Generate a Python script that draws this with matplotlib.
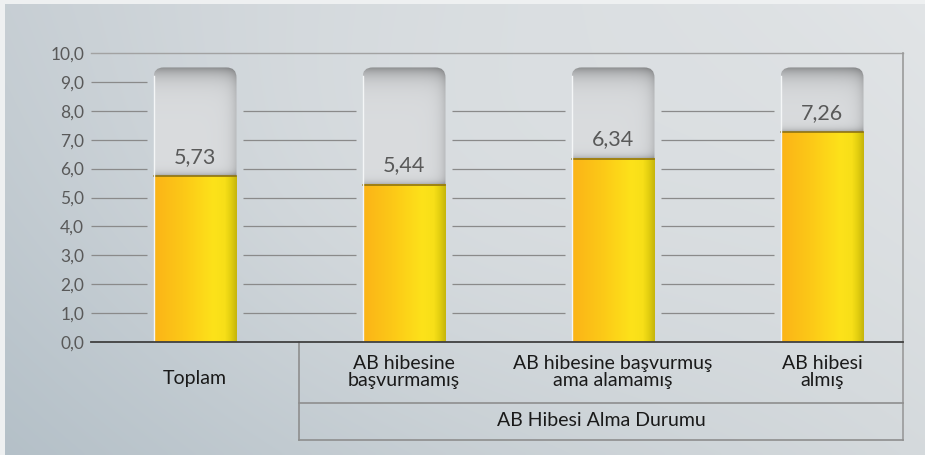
import numpy as np
import matplotlib
matplotlib.use('Agg')
from matplotlib import pyplot as plt
from matplotlib.patches import FancyBboxPatch

plt.rcParams['font.family'] = ['Lato', 'DejaVu Sans']

categories = ['Toplam', 'AB hibesine\nbaşvurmamış', 'AB hibesine başvurmuş\nama alamamış', 'AB hibesi\nalmış']
values = [5.73, 5.44, 6.34, 7.26]
value_labels = ['5,73', '5,44', '6,34', '7,26']
group_label = 'AB Hibesi Alma Durumu'
yticks = list(range(0, 11))
ytick_labels = ['0,0', '1,0', '2,0', '3,0', '4,0', '5,0', '6,0', '7,0', '8,0', '9,0', '10,0']
track_top = 9.5


def hex2rgb(h):
    h = h.lstrip('#')
    return np.array([int(h[i:i + 2], 16) / 255 for i in (0, 2, 4)])


def background(fig):
    bg = fig.add_axes([0, 0, 1, 1])
    bg.set_axis_off()
    bg.set_xlim(0, 1)
    bg.set_ylim(0, 1)
    h, w = 120, 240
    yy, xx = np.mgrid[0:1:h * 1j, 0:1:w * 1j]
    tl, tr = hex2rgb('#c4ccd2'), hex2rgb('#e2e5e7')
    bl, br = hex2rgb('#b3bfc7'), hex2rgb('#d4d9dc')
    img = (tl[None, None] * ((1 - xx) * yy)[..., None] + tr[None, None] * (xx * yy)[..., None]
           + bl[None, None] * ((1 - xx) * (1 - yy))[..., None] + br[None, None] * (xx * (1 - yy))[..., None])
    glow = np.exp(-(((xx - 0.55) / 0.45) ** 2 + ((yy - 0.7) / 0.6) ** 2))
    img = img + (hex2rgb('#e0e3e5') - img) * glow[..., None] * 0.6
    bg.imshow(img, extent=(5 / 925, 1, 0, 1 - 4 / 455), origin='lower', aspect='auto',
              interpolation='bilinear')


def track_image(n_rows, n_cols=84):
    # rows from top (index 0) to bottom
    t = np.arange(n_rows)[:, None].astype(float)
    base = 0.865
    top = 0.56 + (base - 0.56) * (1 - np.exp(-t / 9.0))
    bottom_dist = (n_rows - 1 - t)
    shade = top - 0.20 * np.exp(-bottom_dist / 3.0)
    c = np.arange(n_cols)[None, :].astype(float)
    right = 0.13 * np.exp(-(n_cols - 1 - c) / 6.0)
    val = shade - right
    img = np.stack([val * 0.985, val * 0.995, val * 1.005], axis=-1)
    return np.clip(img, 0, 1)


def yellow_image(n_cols=84):
    stops = [0.0, 0.35, 0.72, 0.86, 0.93, 1.0]
    cols = ['#fbb418', '#fcc817', '#fde21a', '#f7df18', '#e3cf10', '#c7b60c']
    xs = np.linspace(0, 1, n_cols)
    rgb = np.array([hex2rgb(c) for c in cols])
    img = np.stack([np.interp(xs, stops, rgb[:, k]) for k in range(3)], axis=-1)
    return img[None, :, :]


fig = plt.figure(figsize=(9.25, 4.55), dpi=100)
fig.patch.set_facecolor('#eef0f1')
background(fig)

ax = fig.add_axes([91 / 925, 1 - 342 / 455, (903 - 91) / 925, (342 - 53) / 455])
ax.set_facecolor('none')
x_left, x_right = -0.4976, 3.3876
ax.set_xlim(x_left, x_right)
ax.set_ylim(0, 10)

bar_w = 0.397
gap = 0.029
px_per_y = 28.9
x = np.arange(len(values))

# grid segments, broken around the bars
for yv in yticks[1:-1]:
    segs = [(x_left, x[0] - bar_w / 2 - gap)]
    if yv < 9:
        for i in range(len(x) - 1):
            segs.append((x[i] + bar_w / 2 + gap, x[i + 1] - bar_w / 2 - gap))
    for a, b in segs:
        ax.plot([a, b], [yv, yv], color='#8a8a8a', lw=0.9, solid_capstyle='butt', zorder=1)
ax.plot([x_left, x_right], [10, 10], color='#a2a2a2', lw=1.0, zorder=1, clip_on=False)

for i, v in enumerate(values):
    x0, x1 = x[i] - bar_w / 2, x[i] + bar_w / 2
    patch = FancyBboxPatch((x0, 0), bar_w, track_top, boxstyle='round,pad=0,rounding_size=0.048',
                           mutation_aspect=7.2, facecolor='none', edgecolor='none', zorder=2)
    ax.add_patch(patch)
    n_rows = max(int((track_top - v) * px_per_y), 4)
    im = ax.imshow(track_image(n_rows), extent=(x0, x1, v, track_top), aspect='auto',
                   interpolation='bilinear', zorder=2)
    im.set_clip_path(patch)
    ax.imshow(yellow_image(), extent=(x0, x1, 0, v), aspect='auto', interpolation='bilinear', zorder=3)
    ax.plot([x0, x1], [v, v], color='#8f7412', lw=1.2, zorder=4)
    ax.plot([x0, x0], [0, track_top - 0.3], color='#f4f6f7', lw=1.0, zorder=4)
    ax.annotate(value_labels[i], (x[i], v), xytext=(0, 14), textcoords='offset points',
                ha='center', va='center', fontsize=15.5, color='#595959', zorder=5)

ax.set_xlim(x_left, x_right)
ax.set_ylim(0, 10)

ax.set_yticks(yticks)
ax.set_yticklabels(ytick_labels)
ax.tick_params(axis='y', length=0, pad=5, labelsize=12.5, labelcolor='#595959')
ax.set_xticks([])
for s in ax.spines.values():
    s.set_visible(False)

# axis line and table below
ax.plot([x_left, x_right], [0, 0], color='#404040', lw=1.3, zorder=6, clip_on=False)
tr = ax.get_xaxis_transform()
row1, row2 = -0.211, -0.339
ax.plot([0.5, 0.5], [0, row2], transform=tr, color='#8e8e8e', lw=1.2, clip_on=False)
ax.plot([x_right, x_right], [1, row2], transform=tr, color='#9a9a9a', lw=1.2, clip_on=False)
ax.plot([0.5, x_right], [row1, row1], transform=tr, color='#8e8e8e', lw=1.2, clip_on=False)
ax.plot([0.5, x_right], [row2, row2], transform=tr, color='#8e8e8e', lw=1.2, clip_on=False)

ax.text(x[0], -0.125, categories[0], transform=tr, ha='center', va='center', fontsize=14,
        color='#1a1a1a')
for i in range(1, len(categories)):
    ax.text(x[i], -0.104, categories[i], transform=tr, ha='center', va='center', fontsize=14,
            color='#1a1a1a', linespacing=0.98)
ax.text((0.5 + x_right) / 2, -0.273, group_label, transform=tr, ha='center', va='center',
        fontsize=14, color='#1a1a1a')

fig.savefig('out.png', dpi=100)
